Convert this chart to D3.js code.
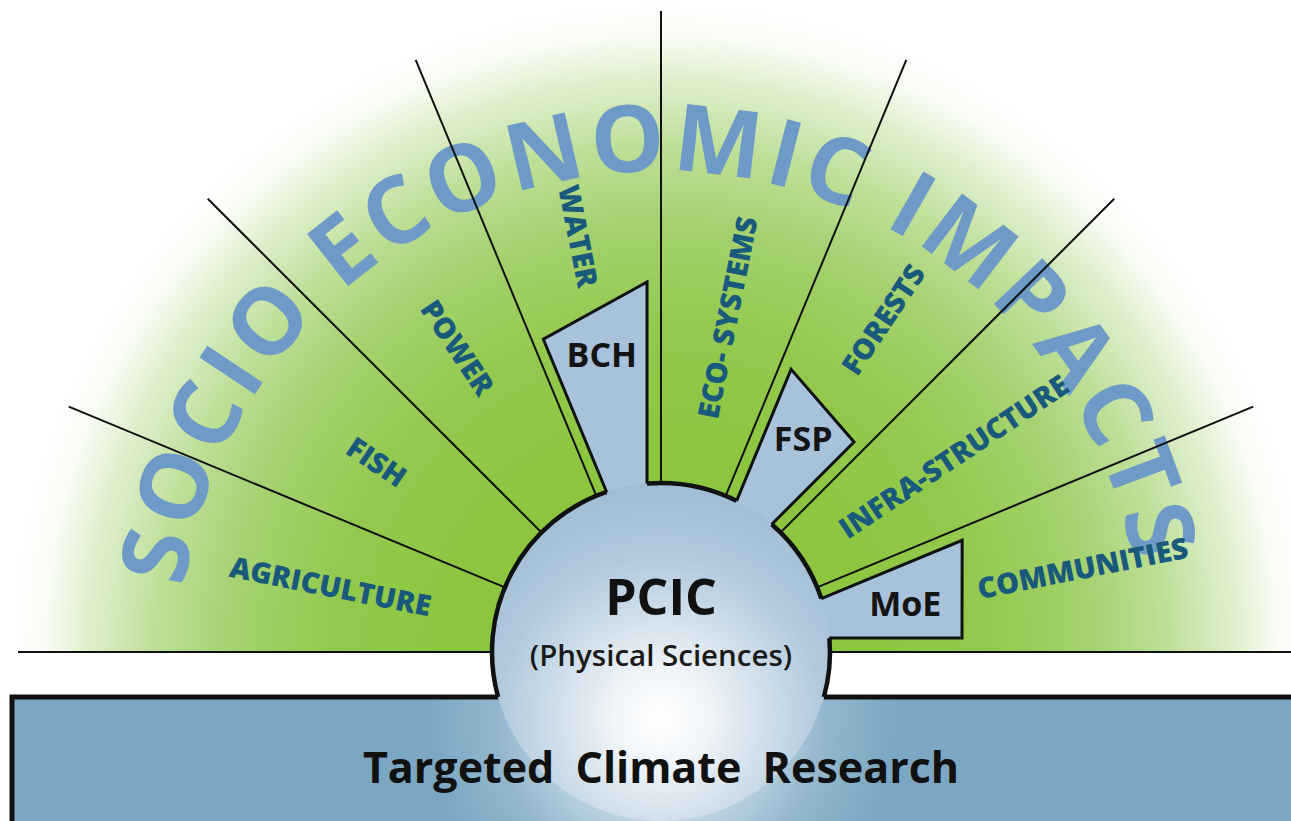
<!DOCTYPE html>
<html><head><meta charset="utf-8">
<script src="https://cdn.jsdelivr.net/npm/d3@7"></script>
<style>html,body{margin:0;padding:0;background:#fff;overflow:hidden}</style>
</head><body>
<svg id="chart" width="1291" height="821"></svg>
<script>
// ---------- data ----------
const arcTitle = "SOCIO ECONOMIC IMPACTS";
const sectors = ["AGRICULTURE","FISH","POWER","WATER","ECO- SYSTEMS","FORESTS","INFRA-STRUCTURE","COMMUNITIES"];
const callouts = ["BCH","FSP","MoE"];
const calloutSector = [3, 5, 7];           // index into sectors
const centerTitle = "PCIC";
const centerSubtitle = "(Physical Sciences)";
const baseTitle = "Targeted Climate Research";

// ---------- layout ----------
const W = 1291, H = 821;
const cx = 661, cy = 652, R0 = 169, R1 = 641, RG = 650;
const boxTop = 697, boxLeft = 12;
const labelRadius = [337, 342, 366, 424, 341, 400, 352, 430];
const calloutReachA = [334, 311, 321];
const calloutReachB = [370, 285, 301];
const calloutOffA = [11, 12, 12];
const calloutOffB = [14, 12, 14];
const calloutLabelRadius = [303, 256, 249];

const svg = d3.select("#chart");
const defs = svg.append("defs");
const ang = d3.scaleLinear().domain([0, sectors.length]).range([180, 0]); // degrees, math convention
const rad = d => d * Math.PI / 180;
const pt = (r, deg) => [cx + r * Math.cos(rad(deg)), cy - r * Math.sin(rad(deg))];
const FONT = "'Open Sans', sans-serif";

// green radial gradient
const gg = defs.append("radialGradient").attr("id","green").attr("gradientUnits","userSpaceOnUse")
  .attr("cx",cx).attr("cy",cy).attr("r",RG);
[[0,"#8ac53c"],[0.3,"#8bc63e"],[0.5,"#93c94e"],[0.66,"#a5d16f"],[0.78,"#bfdf99"],[0.88,"#dfefcd"],[0.95,"#f9fcf5"],[1,"#ffffff"]]
  .forEach(([o,c]) => gg.append("stop").attr("offset",o).attr("stop-color",c));

// glow gradient
const glow = defs.append("radialGradient").attr("id","glow").attr("gradientUnits","userSpaceOnUse")
  .attr("cx",cx).attr("cy",718).attr("r",235);
[[0,1],[0.2,0.85],[0.45,0.5],[0.7,0.18],[1,0]]
  .forEach(([o,a]) => glow.append("stop").attr("offset",o).attr("stop-color","#ffffff").attr("stop-opacity",a));

defs.append("clipPath").attr("id","upper").append("rect").attr("x",0).attr("y",0).attr("width",W).attr("height",cy);
const cu = defs.append("clipPath").attr("id","blue");
cu.append("rect").attr("x",boxLeft).attr("y",boxTop).attr("width",W).attr("height",200);
cu.append("circle").attr("cx",cx).attr("cy",cy).attr("r",R0);

// green background
svg.append("circle").attr("cx",cx).attr("cy",cy).attr("r",RG)
  .attr("fill","url(#green)").attr("clip-path","url(#upper)");

// big arc title
const arcR = 481, arcMid = 91.25, arcSpan = 162;
const a0 = pt(arcR, arcMid + 90), a1 = pt(arcR, arcMid - 90);
defs.append("path").attr("id","titleArc")
  .attr("d", `M${a0[0]},${a0[1]} A${arcR},${arcR} 0 0,1 ${a1[0]},${a1[1]}`);
const tt = svg.append("text")
  .attr("font-family",FONT).attr("font-weight",700)
  .attr("font-size",93).attr("fill","#6d9ac6");
tt.append("textPath").attr("href","#titleArc").attr("startOffset","50%")
  .attr("text-anchor","middle").text(arcTitle);
const target = rad(arcSpan) * arcR;
const measured = tt.node().getComputedTextLength();
tt.style("letter-spacing", ((target - measured) / arcTitle.length) + "px");

// rays
const rayAngles = d3.range(1, sectors.length).map(i => ang(i));
svg.selectAll("line.ray").data(rayAngles).join("line").attr("class","ray")
  .attr("x1", d => pt(R0, d)[0]).attr("y1", d => pt(R0, d)[1])
  .attr("x2", d => pt(R1, d)[0]).attr("y2", d => pt(R1, d)[1])
  .attr("stroke","#111").attr("stroke-width",2);

// horizontal ground line
svg.append("line").attr("x1",18).attr("x2",cx - R0).attr("y1",cy).attr("y2",cy).attr("stroke","#111").attr("stroke-width",2.2);
svg.append("line").attr("x1",cx + R0).attr("x2",W).attr("y1",cy).attr("y2",cy).attr("stroke","#111").attr("stroke-width",2.2);

// sector labels
svg.selectAll("text.sector").data(sectors).join("text").attr("class","sector")
  .attr("transform", (d, i) => {
    const m = ang(i + 0.5), p = pt(labelRadius[i], m);
    const rot = m > 90 ? 180 - m : -m;
    return `translate(${p[0]},${p[1]}) rotate(${rot})`;
  })
  .attr("text-anchor","middle").attr("dy","0.36em")
  .attr("font-family",FONT).attr("font-weight",800)
  .attr("font-size",29).attr("fill","#18597c").text(d => d);

// callout polygons
function offPoint(t, deg, d, towardLower) {
  const u = [Math.cos(rad(deg)), Math.sin(rad(deg))];
  const n = towardLower ? [Math.sin(rad(deg)), -Math.cos(rad(deg))] : [-Math.sin(rad(deg)), Math.cos(rad(deg))];
  return [cx + t * u[0] + d * n[0], cy - (t * u[1] + d * n[1])];
}
const calloutGeom = callouts.map((name, k) => {
  const s = calloutSector[k], A = ang(s), B = ang(s + 1);
  const dA = calloutOffA[k], dB = calloutOffB[k];
  const tA = Math.sqrt(R0 * R0 - dA * dA) - 6, tB = Math.sqrt(R0 * R0 - dB * dB) - 6;
  return {
    name,
    pts: [offPoint(tA, A, dA, true), offPoint(calloutReachA[k], A, dA, true),
          offPoint(calloutReachB[k], B, dB, false), offPoint(tB, B, dB, false)],
    gap: [B + Math.asin(dB / R0) * 180 / Math.PI, A - Math.asin(dA / R0) * 180 / Math.PI],
    label: pt(calloutLabelRadius[k], ang(s + 0.5))
  };
});
svg.selectAll("polygon.callout").data(calloutGeom).join("polygon").attr("class","callout")
  .attr("points", d => d.pts.map(p => p.join(",")).join(" "))
  .attr("fill","#a8c2db").attr("stroke","#111").attr("stroke-width",3).attr("stroke-linejoin","miter");

// blue base box and core circle
svg.append("rect").attr("x",boxLeft).attr("y",boxTop).attr("width",W).attr("height",200).attr("fill","#7ba7c3");
svg.append("circle").attr("cx",cx).attr("cy",cy).attr("r",R0).attr("fill","#a0bdd5");
svg.append("rect").attr("x",0).attr("y",0).attr("width",W).attr("height",H)
  .attr("fill","url(#glow)").attr("clip-path","url(#blue)");

// outlines
const yOff = boxTop - cy;
const xHalf = Math.sqrt(R0 * R0 - yOff * yOff);
const boxPath = d3.path();
boxPath.moveTo(boxLeft, H + 20); boxPath.lineTo(boxLeft, boxTop); boxPath.lineTo(cx - xHalf, boxTop);
boxPath.moveTo(cx + xHalf, boxTop); boxPath.lineTo(W + 10, boxTop);
svg.append("path").attr("d", boxPath.toString()).attr("fill","none").attr("stroke","#111").attr("stroke-width",5);

const startDeg = -Math.asin(yOff / R0) * 180 / Math.PI;
const endDeg = 180 - startDeg;
const gaps = calloutGeom.map(d => d.gap).sort((a, b) => a[0] - b[0]);
let segs = [], cur = startDeg;
gaps.forEach(g => { segs.push([cur, g[0]]); cur = g[1]; });
segs.push([cur, endDeg]);
svg.selectAll("path.rim").data(segs).join("path").attr("class","rim")
  .attr("d", s => { const p = d3.path(); const q = pt(R0, s[0]); p.moveTo(q[0], q[1]);
    p.arc(cx, cy, R0, -rad(s[0]), -rad(s[1]), true); return p.toString(); })
  .attr("fill","none").attr("stroke","#111").attr("stroke-width",4.5);

// callout labels
svg.selectAll("text.callout").data(calloutGeom).join("text").attr("class","callout")
  .attr("x", d => d.label[0]).attr("y", d => d.label[1]).attr("dy","0.36em")
  .attr("text-anchor","middle").attr("font-family",FONT).attr("font-weight",700)
  .attr("font-size",34).attr("fill","#141414").text(d => d.name);

// centre texts
svg.append("text").attr("x",cx).attr("y",615).attr("text-anchor","middle")
  .attr("font-family",FONT).attr("font-weight",700).attr("font-size",50).attr("fill","#111").text(centerTitle);
svg.append("text").attr("x",cx).attr("y",666).attr("text-anchor","middle")
  .attr("font-family",FONT).attr("font-weight",600).attr("font-size",29.5).attr("fill","#1a1a1a").text(centerSubtitle);
svg.append("text").attr("x",cx).attr("y",783).attr("text-anchor","middle")
  .attr("font-family",FONT).attr("font-weight",700).attr("font-size",43).attr("fill","#111")
  .attr("word-spacing",10).text(baseTitle);
</script>
</body></html>
